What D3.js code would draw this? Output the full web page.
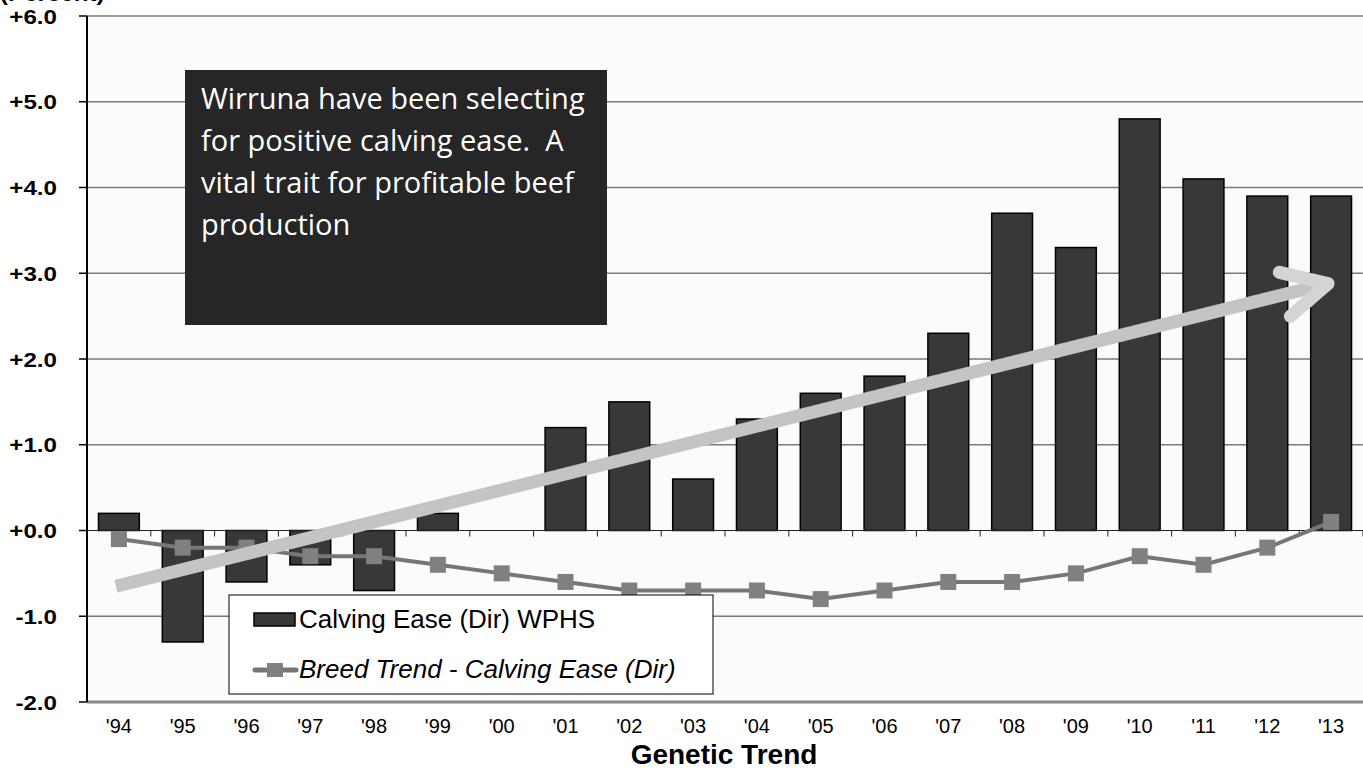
<!DOCTYPE html>
<html>
<head>
<meta charset="utf-8">
<script src="https://cdn.jsdelivr.net/npm/d3@7"></script>
<style>
  body { margin: 0; background: #fff; }
  svg { display: block; }
  text { white-space: pre; }
</style>
</head>
<body>
<svg id="chart" width="1363" height="770"></svg>
<script>
var years = ["'94","'95","'96","'97","'98","'99","'00","'01","'02","'03","'04","'05","'06","'07","'08","'09","'10","'11","'12","'13"]
var wphs = [0.2, -1.3, -0.6, -0.4, -0.7, 0.2, 0, 1.2, 1.5, 0.6, 1.3, 1.6, 1.8, 2.3, 3.7, 3.3, 4.8, 4.1, 3.9, 3.9]
var breed = [-0.1, -0.2, -0.2, -0.3, -0.3, -0.4, -0.5, -0.6, -0.7, -0.7, -0.7, -0.8, -0.7, -0.6, -0.6, -0.5, -0.3, -0.4, -0.2, 0.1]
var yTicks = [6, 5, 4, 3, 2, 1, 0, -1, -2]
var note = ["Wirruna have been selecting", "for positive calving ease.  A", "vital trait for profitable beef", "production"]

var width = 1363
    height = 770
    margin = {top: 16, right: 0, bottom: 68, left: 87}
    font = "Liberation Sans, Arial, sans-serif"

var svg = d3.select("#chart")

var x = d3.scaleBand()
  .domain(years)
  .range([margin.left, width - margin.right])
  .paddingInner(0.36)
  .paddingOuter(0.18)

var y = d3.scaleLinear()
  .domain([-2, 6])
  .range([height - margin.bottom, margin.top])

var fmt = function(d) { return d >= 0 ? "+" + d.toFixed(1) : d.toFixed(1) }
var cx = function(i) { return x(years[i]) + x.bandwidth() / 2 }

// plot area
svg.append("rect")
  .attr("x", margin.left).attr("y", margin.top)
  .attr("width", width - margin.left).attr("height", y(-2) - margin.top)
  .attr("fill", "#fbfbfb")

// grid
svg.append("g")
  .selectAll("line")
  .data(yTicks.filter(function(d) { return d !== -2 && d !== 0 }))
  .enter()
  .append("line")
    .attr("x1", margin.left).attr("x2", width)
    .attr("y1", function(d) { return y(d) }).attr("y2", function(d) { return y(d) })
    .attr("stroke", "#7a7a7a").attr("stroke-width", 1.5)

// bars
svg.append("g")
  .selectAll("rect")
  .data(wphs)
  .enter()
  .append("rect")
    .attr("x", function(d, i) { return x(years[i]) })
    .attr("width", x.bandwidth())
    .attr("y", function(d) { return y(Math.max(0, d)) })
    .attr("height", function(d) { return Math.abs(y(d) - y(0)) })
    .attr("fill", "#383838")
    .attr("stroke", function(d) { return d === 0 ? "none" : "#000" })
    .attr("stroke-width", 1.5)

// zero line with category ticks
svg.append("line")
  .attr("x1", margin.left).attr("x2", width)
  .attr("y1", y(0)).attr("y2", y(0))
  .attr("stroke", "#222").attr("stroke-width", 1.2)

var step = x.step()
svg.append("g")
  .selectAll("line")
  .data(years)
  .enter()
  .append("line")
    .attr("x1", function(d, i) { return margin.left + step * (i + 1) })
    .attr("x2", function(d, i) { return margin.left + step * (i + 1) })
    .attr("y1", y(0)).attr("y2", y(0) + 6)
    .attr("stroke", "#222").attr("stroke-width", 1)

// bottom axis line
svg.append("line")
  .attr("x1", margin.left).attr("x2", width)
  .attr("y1", y(-2)).attr("y2", y(-2))
  .attr("stroke", "#888").attr("stroke-width", 3)

// y axis
svg.append("line")
  .attr("x1", margin.left).attr("x2", margin.left)
  .attr("y1", margin.top).attr("y2", y(-2))
  .attr("stroke", "#000").attr("stroke-width", 2)

svg.append("g")
  .selectAll("line")
  .data(yTicks)
  .enter()
  .append("line")
    .attr("x1", margin.left - 8).attr("x2", margin.left)
    .attr("y1", function(d) { return y(d) }).attr("y2", function(d) { return y(d) })
    .attr("stroke", "#000").attr("stroke-width", 1.5)

svg.append("g")
  .selectAll("text")
  .data(yTicks)
  .enter()
  .append("text")
    .attr("transform", function(d) { return "translate(57," + y(d) + ") scale(1.15,1)" })
    .attr("dy", "0.36em")
    .attr("text-anchor", "end")
    .attr("font-family", font)
    .attr("font-weight", "bold")
    .attr("font-size", 21)
    .text(fmt)

// unit label, cut off at the top like the original
svg.append("text")
  .attr("transform", "translate(0,1) scale(1.15,1)")
  .attr("font-family", font)
  .attr("font-weight", "bold")
  .attr("font-size", 21)
  .text("(Percent)")

// x labels
svg.append("g")
  .selectAll("text")
  .data(years)
  .enter()
  .append("text")
    .attr("x", function(d, i) { return cx(i) })
    .attr("y", 733)
    .attr("text-anchor", "middle")
    .attr("font-family", font)
    .attr("font-size", 20)
    .text(function(d) { return d })

svg.append("text")
  .attr("x", 724).attr("y", 764)
  .attr("text-anchor", "middle")
  .attr("font-family", font)
  .attr("font-weight", "bold")
  .attr("font-size", 28)
  .text("Genetic Trend")

// breed trend line
var line = d3.line()
  .x(function(d, i) { return cx(i) })
  .y(function(d) { return y(d) })

svg.append("path")
  .datum(breed)
  .attr("d", line)
  .attr("fill", "none")
  .attr("stroke", "#767676")
  .attr("stroke-width", 4)

svg.append("g")
  .selectAll("rect")
  .data(breed)
  .enter()
  .append("rect")
    .attr("x", function(d, i) { return cx(i) - 8 })
    .attr("y", function(d) { return y(d) - 8 })
    .attr("width", 16).attr("height", 16)
    .attr("fill", "#808080")

// trend arrow
var ax1 = cx(0) - 3, ay1 = y(-0.65)
var ax2 = cx(19) - 3, ay2 = y(2.88)
var ang = Math.atan2(ay2 - ay1, ax2 - ax1)
svg.append("line")
  .attr("x1", ax1).attr("y1", ay1)
  .attr("x2", ax2 - 6 * Math.cos(ang)).attr("y2", ay2 - 6 * Math.sin(ang))
  .attr("stroke", "#c4c4c4").attr("stroke-width", 13)

var head = 50
var arms = [ang + Math.PI + 0.47, ang + Math.PI - 0.47]
svg.append("path")
  .attr("d", "M" + (ax2 + head * Math.cos(arms[0])) + "," + (ay2 + head * Math.sin(arms[0])) +
             "L" + ax2 + "," + ay2 +
             "L" + (ax2 + head * Math.cos(arms[1])) + "," + (ay2 + head * Math.sin(arms[1])))
  .attr("fill", "none")
  .attr("stroke", "#d4d4d4").attr("stroke-width", 13)
  .attr("stroke-linecap", "round").attr("stroke-linejoin", "round")

// note box
svg.append("rect")
  .attr("x", 185).attr("y", 70).attr("width", 422).attr("height", 255)
  .attr("fill", "#262626")

svg.append("g")
  .selectAll("text")
  .data(note)
  .enter()
  .append("text")
    .attr("x", 201)
    .attr("y", function(d, i) { return 109 + i * 42 })
    .attr("fill", "#fff")
    .attr("font-family", "Open Sans, sans-serif")
    .attr("font-size", 29)
    .text(function(d) { return d })

// legend
var lg = svg.append("g")
lg.append("rect")
  .attr("x", 229).attr("y", 595).attr("width", 484).attr("height", 99)
  .attr("fill", "#fff").attr("stroke", "#000").attr("stroke-width", 1)
lg.append("rect")
  .attr("x", 254).attr("y", 613).attr("width", 41).attr("height", 13)
  .attr("fill", "#383838").attr("stroke", "#000").attr("stroke-width", 1.5)
lg.append("text")
  .attr("x", 299).attr("y", 628)
  .attr("font-family", font)
  .attr("font-size", 26)
  .text("Calving Ease (Dir) WPHS")
lg.append("line")
  .attr("x1", 255).attr("x2", 296).attr("y1", 670).attr("y2", 670)
  .attr("stroke", "#767676").attr("stroke-width", 5).attr("stroke-linecap", "round")
lg.append("rect")
  .attr("x", 267).attr("y", 663).attr("width", 16).attr("height", 14)
  .attr("fill", "#808080")
lg.append("text")
  .attr("x", 299).attr("y", 678)
  .attr("font-family", font)
  .attr("font-style", "italic")
  .attr("font-size", 26)
  .text("Breed Trend - Calving Ease (Dir)")
</script>
</body>
</html>
